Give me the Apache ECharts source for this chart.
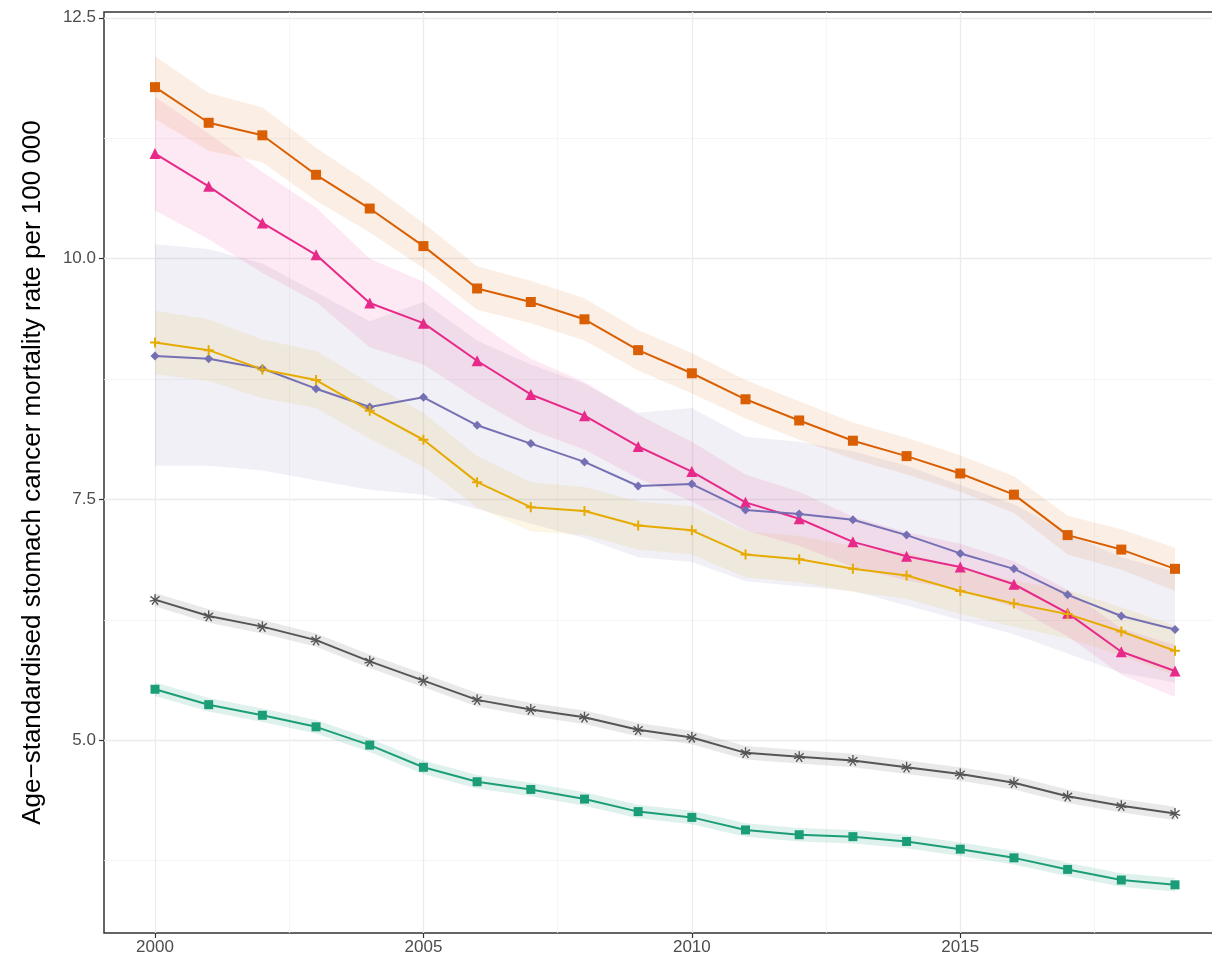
<!DOCTYPE html>
<html lang="en">
<head>
    <meta charset="UTF-8">
    <title>Age-standardised stomach cancer mortality</title>
    <script src="https://cdn.jsdelivr.net/npm/echarts@6/dist/echarts.min.js"></script>
    <style>
        html, body { margin: 0; padding: 0; background: #fff; }
    </style>
</head>
<body>
    <div id="chart" style="width: 1212px; height: 968px;"></div>

    <script>
        var years = [2000, 2001, 2002, 2003, 2004, 2005, 2006, 2007, 2008, 2009,
                     2010, 2011, 2012, 2013, 2014, 2015, 2016, 2017, 2018, 2019];

        var xTicks = [2000, 2005, 2010, 2015];
        var xMinor = [2002.5, 2007.5, 2012.5, 2017.5];
        var yTicks = [5.0, 7.5, 10.0, 12.5];
        var yMinor = [3.75, 6.25, 8.75, 11.25];

        var orange = [11.78, 11.41, 11.28, 10.87, 10.52, 10.13, 9.69, 9.55, 9.37, 9.05,
                      8.81, 8.54, 8.32, 8.11, 7.95, 7.77, 7.55, 7.13, 6.98, 6.78];
        var orangeLo = [11.45, 11.12, 11.0, 10.6, 10.27, 9.9, 9.47, 9.33, 9.15, 8.84,
                        8.6, 8.34, 8.12, 7.92, 7.76, 7.58, 7.36, 6.93, 6.77, 6.55];
        var orangeHi = [12.1, 11.72, 11.57, 11.15, 10.78, 10.37, 9.92, 9.77, 9.59, 9.26,
                        9.02, 8.74, 8.52, 8.3, 8.14, 7.96, 7.74, 7.33, 7.19, 7.0];

        var pink = [11.09, 10.75, 10.37, 10.04, 9.54, 9.33, 8.94, 8.59, 8.37, 8.05,
                    7.79, 7.47, 7.30, 7.06, 6.91, 6.80, 6.62, 6.32, 5.92, 5.72];
        var pinkLo = [10.5, 10.2, 9.85, 9.55, 9.08, 8.9, 8.54, 8.22, 8.02, 7.72,
                      7.48, 7.18, 7.02, 6.8, 6.66, 6.56, 6.38, 6.08, 5.68, 5.45];
        var pinkHi = [11.68, 11.3, 10.9, 10.53, 10.0, 9.76, 9.34, 8.96, 8.72, 8.38,
                      8.1, 7.76, 7.58, 7.32, 7.16, 7.04, 6.86, 6.56, 6.16, 5.99];

        var purple = [8.99, 8.96, 8.86, 8.65, 8.46, 8.56, 8.27, 8.08, 7.89, 7.64,
                      7.66, 7.39, 7.35, 7.29, 7.13, 6.94, 6.78, 6.51, 6.29, 6.15];
        var purpleLo = [7.85, 7.85, 7.8, 7.7, 7.6, 7.55, 7.4, 7.25, 7.1, 6.9,
                        6.85, 6.65, 6.6, 6.55, 6.4, 6.25, 6.1, 5.9, 5.7, 5.6];
        var purpleHi = [10.15, 10.1, 9.95, 9.65, 9.35, 9.55, 9.15, 8.9, 8.7, 8.4,
                        8.45, 8.15, 8.1, 8.0, 7.85, 7.65, 7.45, 7.15, 6.9, 6.75];

        var yellow = [9.13, 9.05, 8.85, 8.74, 8.42, 8.12, 7.68, 7.42, 7.38, 7.23,
                      7.18, 6.93, 6.88, 6.78, 6.71, 6.55, 6.42, 6.31, 6.13, 5.93];
        var yellowLo = [8.8, 8.73, 8.55, 8.45, 8.13, 7.84, 7.42, 7.17, 7.13, 6.98,
                        6.93, 6.69, 6.64, 6.54, 6.47, 6.31, 6.18, 6.06, 5.88, 5.67];
        var yellowHi = [9.46, 9.37, 9.16, 9.04, 8.71, 8.4, 7.95, 7.68, 7.63, 7.48,
                        7.43, 7.17, 7.12, 7.02, 6.95, 6.79, 6.66, 6.56, 6.38, 6.19];

        var grey = [6.46, 6.29, 6.18, 6.04, 5.82, 5.62, 5.42, 5.32, 5.24, 5.11,
                    5.03, 4.87, 4.83, 4.79, 4.72, 4.65, 4.56, 4.42, 4.32, 4.24];
        var greyLo = [6.39, 6.22, 6.11, 5.97, 5.75, 5.55, 5.35, 5.25, 5.17, 5.04,
                      4.96, 4.80, 4.76, 4.72, 4.65, 4.58, 4.49, 4.35, 4.25, 4.17];
        var greyHi = [6.53, 6.36, 6.25, 6.11, 5.89, 5.69, 5.49, 5.39, 5.31, 5.18,
                      5.10, 4.94, 4.90, 4.86, 4.79, 4.72, 4.63, 4.49, 4.39, 4.31];

        var green = [5.53, 5.37, 5.26, 5.14, 4.95, 4.72, 4.57, 4.49, 4.39, 4.26,
                     4.20, 4.07, 4.02, 4.00, 3.95, 3.87, 3.78, 3.66, 3.55, 3.50];
        var greenLo = [5.46, 5.30, 5.19, 5.07, 4.88, 4.65, 4.50, 4.42, 4.32, 4.19,
                       4.13, 4.00, 3.95, 3.93, 3.88, 3.80, 3.71, 3.59, 3.48, 3.43];
        var greenHi = [5.60, 5.44, 5.33, 5.21, 5.02, 4.79, 4.64, 4.56, 4.46, 4.33,
                       4.27, 4.14, 4.09, 4.07, 4.02, 3.94, 3.85, 3.73, 3.62, 3.57];

        var chart = echarts.init(document.getElementById('chart'));

        var plusPath = 'path://M4,0L6,0L6,4L10,4L10,6L6,6L6,10L4,10L4,6L0,6L0,4L4,4Z';
        var starPath = 'path://M4.4,0L5.6,0L5.6,3.6L8.6,1.4L9.3,2.4L6.3,4.6L9.8,5.7L9.4,6.8L5.9,5.7L8.1,8.7L7.1,9.4L5,6.4L2.9,9.4L1.9,8.7L4.1,5.7L0.6,6.8L0.2,5.7L3.7,4.6L0.7,2.4L1.4,1.4L4.4,3.6Z';

        function pair(vals) {
            return years.map(function (y, i) { return [y, vals[i]]; });
        }

        // ribbon drawn as one polygon through the axis scales
        function band(lo, hi, color, alpha) {
            return {
                type: 'custom',
                silent: true,
                z: 1,
                data: [[years[0], lo[0]]],
                renderItem: function (params, api) {
                    var pts = [];
                    for (var i = 0; i < years.length; i++) pts.push(api.coord([years[i], hi[i]]));
                    for (var j = years.length - 1; j >= 0; j--) pts.push(api.coord([years[j], lo[j]]));
                    return {
                        type: 'polygon',
                        shape: { points: pts },
                        style: { fill: color, opacity: alpha }
                    };
                }
            };
        }

        function line(vals, color, symbol, size) {
            return {
                type: 'line',
                z: 3,
                data: pair(vals),
                symbol: symbol,
                symbolSize: size,
                showSymbol: true,
                lineStyle: { color: color, width: 2 },
                itemStyle: { color: color },
                emphasis: { disabled: true }
            };
        }

        var tickText = { color: '#4d4d4d', fontSize: 17, fontFamily: 'Liberation Sans' };

        chart.setOption({
            animation: false,
            grid: {
                left: 104, top: 12, width: 1122, height: 921,
                outerBoundsMode: 'none',
                show: true, borderColor: '#333333', borderWidth: 1.5, backgroundColor: '#ffffff'
            },
            xAxis: [{
                type: 'value', min: 1999.05, max: 2019.95,
                axisLine: { show: false },
                axisTick: { show: true, length: 5, customValues: xTicks, lineStyle: { color: '#333333', width: 1.2 } },
                axisLabel: Object.assign({
                    customValues: xTicks, margin: 6,
                    formatter: function (v) { return String(v); }
                }, tickText),
                splitLine: { show: true, lineStyle: { color: '#ebebeb', width: 1.3 } }
            }, {
                type: 'value', min: 1999.05, max: 2019.95, position: 'bottom',
                axisLine: { show: false },
                axisTick: { show: false, customValues: xMinor },
                axisLabel: { show: false, customValues: xMinor },
                splitLine: { show: true, lineStyle: { color: '#f3f3f3', width: 0.8 } }
            }],
            yAxis: [{
                type: 'value', min: 3.0, max: 12.56,
                name: 'Age\u2212standardised stomach cancer mortality rate per 100 000',
                nameLocation: 'middle', nameGap: 58, nameRotate: 90,
                nameTextStyle: { color: '#000000', fontSize: 26, fontFamily: 'Liberation Sans' },
                axisLine: { show: false },
                axisTick: { show: true, length: 5, customValues: yTicks, lineStyle: { color: '#333333', width: 1.2 } },
                axisLabel: Object.assign({
                    customValues: yTicks, margin: 8,
                    formatter: function (v) { return v.toFixed(1); }
                }, tickText),
                splitLine: { show: true, lineStyle: { color: '#ebebeb', width: 1.3 } }
            }, {
                type: 'value', min: 3.0, max: 12.56, position: 'left',
                axisLine: { show: false },
                axisTick: { show: false, customValues: yMinor },
                axisLabel: { show: false, customValues: yMinor },
                splitLine: { show: true, lineStyle: { color: '#f3f3f3', width: 0.8 } }
            }],
            series: [
                band(purpleLo, purpleHi, '#7570b3', 0.1),
                band(yellowLo, yellowHi, '#e6ab02', 0.1),
                band(pinkLo, pinkHi, '#e7298a', 0.1),
                band(orangeLo, orangeHi, '#d95f02', 0.1),
                band(greyLo, greyHi, '#666666', 0.14),
                band(greenLo, greenHi, '#1b9e77', 0.14),
                line(orange, '#d95f02', 'rect', 10),
                line(pink, '#e7298a', 'triangle', 11),
                line(purple, '#7570b3', 'diamond', 9),
                line(yellow, '#e6ab02', plusPath, 10),
                line(grey, '#555555', starPath, 11),
                line(green, '#1b9e77', 'rect', 9)
            ]
        });
    </script>
</body>
</html>
